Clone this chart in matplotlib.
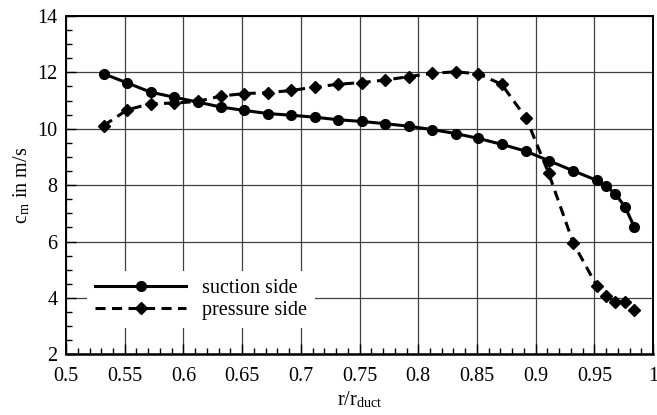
import matplotlib
matplotlib.use("Agg")
import matplotlib.pyplot as plt
from matplotlib.ticker import MultipleLocator

# radial positions r/r_duct
r_ratio = [0.532, 0.552, 0.572, 0.592, 0.612, 0.632, 0.652, 0.672, 0.692,
           0.712, 0.732, 0.752, 0.772, 0.792, 0.812, 0.832, 0.851, 0.871,
           0.892, 0.911, 0.932, 0.952, 0.960, 0.968, 0.976, 0.984]

# meridional velocity c_m in m/s
cm_suction = [11.95, 11.63, 11.30, 11.12, 10.95, 10.77, 10.65, 10.54, 10.48,
              10.41, 10.32, 10.26, 10.18, 10.09, 9.97, 9.83, 9.66, 9.45,
              9.20, 8.87, 8.51, 8.17, 7.98, 7.68, 7.24, 6.52]
cm_pressure = [10.11, 10.67, 10.89, 10.91, 10.97, 11.16, 11.25, 11.28, 11.36,
               11.48, 11.58, 11.64, 11.73, 11.85, 11.97, 12.02, 11.95, 11.58,
               10.37, 8.43, 5.95, 4.43, 4.05, 3.87, 3.86, 3.56]

series_labels = ["suction side", "pressure side"]

plt.rcParams["font.family"] = ["Liberation Serif", "DejaVu Serif"]
plt.rcParams["mathtext.fontset"] = "stix"

fig = plt.figure(figsize=(6.57, 4.15), dpi=100)
ax = fig.add_axes([0.1005, 0.1463, 0.8935, 0.8151])

ax.plot(r_ratio, cm_suction, color="black", lw=2.2, marker="o", ms=7,
        label=series_labels[0], zorder=3)
ax.plot(r_ratio, cm_pressure, color="black", lw=2.2, ls=(0, (3.3, 2.1)),
        marker="D", ms=6, label=series_labels[1], zorder=3)

ax.set_xlim(0.5, 1.0)
ax.set_ylim(2, 14)
ax.xaxis.set_major_locator(MultipleLocator(0.05))
ax.xaxis.set_minor_locator(MultipleLocator(0.01))
ax.yaxis.set_major_locator(MultipleLocator(2))
ax.yaxis.set_minor_locator(MultipleLocator(0.5))
ax.set_xticklabels([f"{v:g}" for v in ax.get_xticks()])

ax.grid(True, which="major", color="0.25", lw=0.9)
ax.tick_params(which="both", direction="in", labelsize=14.5, top=False,
               right=False, width=1.0)
ax.tick_params(which="major", length=7)
ax.tick_params(axis="x", which="major", pad=9)
ax.tick_params(axis="y", which="major", pad=6)
ax.tick_params(which="minor", length=4.5)
for s in ax.spines.values():
    s.set_linewidth(1.4)
ax.spines["bottom"].set_linewidth(1.8)

ax.set_xlabel(r"r/r$_\mathregular{duct}$", fontsize=14.5, labelpad=3)
ax.set_ylabel(r"c$_\mathregular{m}$ in m/s", fontsize=14.5, labelpad=4)

leg = ax.legend(loc="lower left", bbox_to_anchor=(0.036, 0.078, 0.388, 0.204),
                mode="expand", frameon=True, fancybox=False, framealpha=1,
                edgecolor="white", fontsize=14.5, handlelength=4.5,
                handletextpad=0.8, labelspacing=0.15, borderaxespad=0)
leg.get_frame().set_linewidth(0)

fig.savefig("out.png", dpi=100)
